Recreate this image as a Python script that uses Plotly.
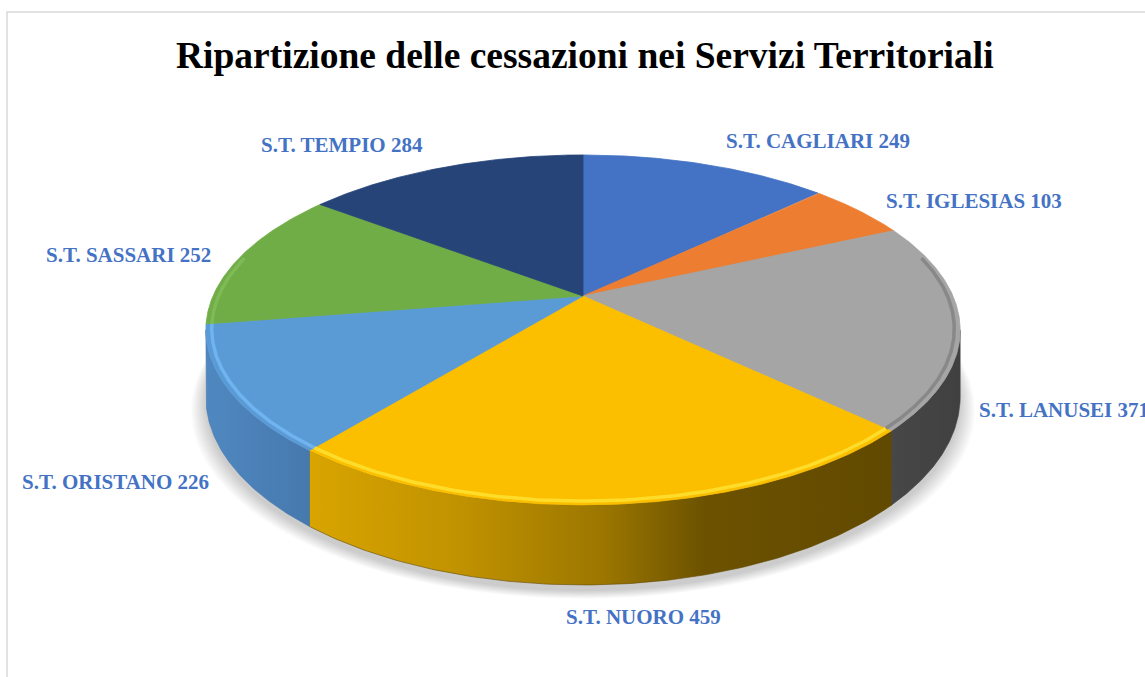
import numpy as np
import plotly.graph_objects as go

# ---------------- data ----------------
categories = ["S.T. CAGLIARI", "S.T. IGLESIAS", "S.T. LANUSEI", "S.T. NUORO",
              "S.T. ORISTANO", "S.T. SASSARI", "S.T. TEMPIO"]
values = [249, 103, 371, 459, 226, 252, 284]
title_text = "Ripartizione delle cessazioni nei Servizi Territoriali"

# ---------------- styles ----------------
top_colors = ["#4472C4", "#ED7D31", "#A5A5A5", "#FBBF00", "#5B9BD5", "#70AD47", "#264478"]
side_scales = [
    [[0, "#33569A"], [1, "#2A4884"]],
    [[0, "#B85F22"], [1, "#9E511C"]],
    [[0, "#474747"], [1, "#404040"]],
    [[0, "#D8A400"], [0.25, "#C29300"], [0.5, "#9C7700"], [0.68, "#6C5200"], [1, "#614900"]],
    [[0, "#4F88C0"], [1, "#4679AE"]],
    [[0, "#558636"], [1, "#4A7630"]],
    [[0, "#1C345C"], [1, "#172B4D"]],
]
rim_colors = ["rgba(110,150,230,0.5)", "rgba(255,160,90,0.5)", "rgba(70,70,70,0.3)",
              "rgba(255,232,60,0.7)", "rgba(120,190,250,0.7)", "rgba(140,200,100,0.5)",
              "rgba(70,100,160,0.5)"]
label_color = "#4472C4"
label_font = "Liberation Serif, Times New Roman, serif"
# label placement (pixel coords of the page), left/center anchors
label_pos = [(818, 141, "center"), (974, 201, "center"), (977, 410, "left"),
             (643, 617, "center"), (115, 482, "center"), (128, 255, "center"),
             (342, 145, "center")]

W, H = 1145, 677
CX, CY = 583.0, 296.0     # projected pie centre
A0, B0 = 370.0, 168.4     # ellipse radii before perspective
P = 0.194                 # perspective strength
H0 = 64.5                 # thickness before perspective


def proj(t_deg, r=1.0, down=0.0):
    t = np.radians(np.asarray(t_deg, dtype=float))
    u = r * np.sin(t)
    v = -r * np.cos(t)
    s = 1.0 / (1.0 - P * v)
    x = CX + A0 * u * s
    y = CY + B0 * v * s + down * H0 * s
    return x, y


total = float(sum(values))
angles = np.cumsum([0.0] + [v / total * 360.0 for v in values])
t_front_a = np.degrees(np.arccos(-P))           # left/right silhouette angles
t_front_b = 360.0 - t_front_a

fig = go.Figure()

# ---- soft shadow under the pie ----
tt = np.linspace(0, 360, 361)
for k in np.linspace(16, 0, 17):
    xs, ys = proj(tt, 1.0, 1.0)
    xs = CX + (xs - CX) * (1 + k / 400.0)
    ys = ys + 6 + k * 0.5
    fig.add_trace(go.Scatter(x=xs, y=ys, mode="lines", fill="toself",
                             fillcolor="rgba(0,0,0,0.012)", line=dict(width=0),
                             hoverinfo="skip", showlegend=False))

# ---- side walls (front-facing part only) ----
for i in range(len(values)):
    a, b = angles[i], angles[i + 1]
    lo, hi = max(a, t_front_a), min(b, t_front_b)
    if hi <= lo:
        continue
    arc = np.linspace(lo, hi, 120)
    xt, yt = proj(arc, 1.0, 0.0)
    xb, yb = proj(arc[::-1], 1.0, 1.0)
    xs = np.concatenate([xt, xb, xt[:1]])
    ys = np.concatenate([yt, yb, yt[:1]])
    fig.add_trace(go.Scatter(x=xs, y=ys, mode="lines", fill="toself",
                             fillgradient=dict(type="horizontal", colorscale=side_scales[i]),
                             line=dict(width=0.6, color=side_scales[i][-1][1]),
                             hoverinfo="skip", showlegend=False))

# ---- top faces ----
for i in range(len(values)):
    a, b = angles[i], angles[i + 1]
    arc = np.linspace(a, b, 200)
    xa, ya = proj(arc, 1.0, 0.0)
    xs = np.concatenate([[CX], xa, [CX]])
    ys = np.concatenate([[CY], ya, [CY]])
    fig.add_trace(go.Scatter(x=xs, y=ys, mode="lines", fill="toself",
                             fillcolor=top_colors[i],
                             line=dict(width=0.8, color=top_colors[i]),
                             hoverinfo="skip", showlegend=False,
                             name=f"{categories[i]} {values[i]}"))

# ---- bevel highlight along the front rim ----
for i in range(len(values)):
    a, b = angles[i], angles[i + 1]
    lo, hi = max(a, t_front_a - 25), min(b, t_front_b + 25)
    if hi <= lo:
        continue
    arc = np.linspace(lo, hi, 120)
    xr, yr = proj(arc, 0.985, 0.0)
    fig.add_trace(go.Scatter(x=xr, y=yr, mode="lines",
                             line=dict(width=3.5, color=rim_colors[i]),
                             hoverinfo="skip", showlegend=False))

# ---- labels ----
annotations = []
for i, (lx, ly, anc) in enumerate(label_pos):
    annotations.append(dict(x=lx, y=ly, xref="x", yref="y", showarrow=False,
                            text=f"<b>{categories[i]} {values[i]}</b>",
                            xanchor=anc, yanchor="middle",
                            font=dict(family=label_font, size=21, color=label_color)))
annotations.append(dict(x=584.5, y=55, xref="x", yref="y", showarrow=False,
                        text=f"<b>{title_text}</b>", xanchor="center", yanchor="middle",
                        font=dict(family=label_font, size=37.5, color="#000000")))

fig.update_layout(
    width=W, height=H, autosize=False,
    margin=dict(l=0, r=0, t=0, b=0, pad=0),
    paper_bgcolor="white", plot_bgcolor="white",
    xaxis=dict(range=[0, W], visible=False, fixedrange=True),
    yaxis=dict(range=[H, 0], visible=False, fixedrange=True),
    annotations=annotations,
    shapes=[dict(type="rect", xref="x", yref="y", x0=7, y0=12, x1=W + 20, y1=H + 20,
                 line=dict(color="#D9D9D9", width=1.5), fillcolor="rgba(0,0,0,0)",
                 layer="below")],
    showlegend=False,
)

fig.write_html("out.html")
